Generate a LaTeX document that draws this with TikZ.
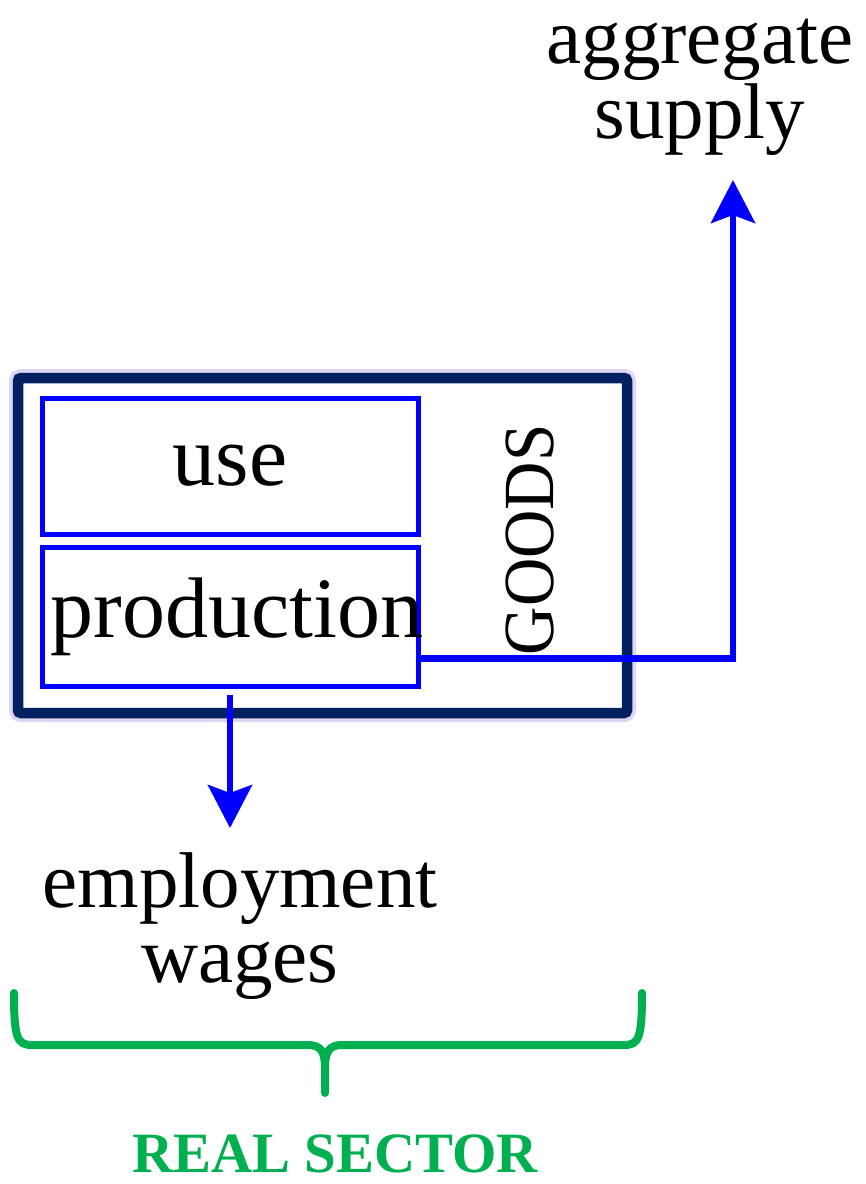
\documentclass[tikz,border=0pt]{standalone}
\usepackage{fontspec}
\setmainfont{Liberation Serif}
\usepackage{graphicx}
\usetikzlibrary{arrows.meta,positioning}
\definecolor{navy}{RGB}{0,32,96}
\definecolor{flowblue}{RGB}{0,0,255}
\definecolor{sectgreen}{RGB}{0,176,80}
\definecolor{glowc}{RGB}{222,212,244}
\tikzset{
  sector/.style  = {draw=navy, line width=5.25pt, rounded corners=1.5pt, fill=white,
                   preaction={draw=glowc, line width=9pt}},
  partbox/.style = {draw=flowblue, line width=2.5pt, minimum width=188pt,
                   inner sep=0pt},
  big/.style     = {font=\fontsize{43}{50}\selectfont},
  outlbl/.style  = {align=center, inner sep=0pt, font=\fontsize{39.5}{37.5}\selectfont},
  flow/.style    = {draw=flowblue, line width=3.25pt,
                   -{Stealth[length=21.5pt,width=22pt,inset=4pt]}},
  brace/.style   = {draw=sectgreen, line width=4pt, line cap=round}
}
\begin{document}
\begin{tikzpicture}[x=0.5pt, y=-0.5pt]
\useasboundingbox (0,0) rectangle (866,1184);

% goods box
\node[sector, minimum width=304.5pt, minimum height=167.5pt] (goods) at (322.5,545.5) {};
\node[partbox, big, minimum height=68pt] (use) at (230,466) {use};
\node[partbox, big, minimum height=69.5pt, below=4pt of use] (prod) {\makebox[0pt]{\hspace{7pt}production}};
\node[rotate=90, font=\fontsize{36}{36}\selectfont] (goodslbl) at (530,540) {\scalebox{0.93}[1]{GOODS}};

% outputs
\node[outlbl] (agg) at (700,87) {aggregate\\supply};
\node[outlbl] (emp) at (240,926) {employment\\wages};
\coordinate (aggtip) at (733,180);
\coordinate (emptip) at (230,828);

\draw[flow] ([yshift=-21pt]prod.east) -| (aggtip);
\draw[flow] ([yshift=-3pt]prod.south) -- (emptip);

% brace
\coordinate (brL) at (14,993);
\coordinate (brR) at (642,993);
\coordinate (brTip) at (325,1093);
\draw[brace] (brL) .. controls (14,1038) and (17,1045) .. (32,1045) -- (308,1045)
  .. controls (321,1045) and (325,1052) .. (325,1068) -- (brTip);
\draw[brace] (brR) .. controls (642,1038) and (639,1045) .. (624,1045) -- (342,1045)
  .. controls (329,1045) and (325,1052) .. (325,1068);

\node[inner sep=0pt, font=\bfseries\fontsize{28.5}{29}\selectfont, text=sectgreen] (real) at (335,1154) {REAL SECTOR};

\end{tikzpicture}
\end{document}
